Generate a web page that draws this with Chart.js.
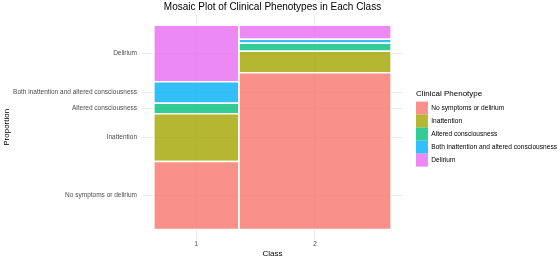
<!DOCTYPE html>
<html>
<head>
<meta charset="utf-8">
<script src="https://cdn.jsdelivr.net/npm/chart.js@4.4.0/dist/chart.umd.min.js"></script>
<style>
  html, body { margin: 0; padding: 0; background: #fff; }
  #wrap { width: 560px; height: 259px; }
</style>
</head>
<body>
<div id="wrap"><canvas id="myChart"></canvas></div>
<script>
// data
const classLabels = ['1', '2'];
const classShare = [0.358, 0.642];
const phenotypes = [
  'No symptoms or delirium',
  'Inattention',
  'Altered consciousness',
  'Both inattention and altered consciousness',
  'Delirium'
];
const class1Props = [0.333, 0.233, 0.052, 0.105, 0.277];
const class2Props = [0.767, 0.106, 0.039, 0.019, 0.069];
const phenotypeColors = [
  'rgba(248, 118, 109, 0.8)',
  'rgba(163, 165, 0, 0.8)',
  'rgba(0, 191, 125, 0.8)',
  'rgba(0, 176, 246, 0.8)',
  'rgba(231, 107, 243, 0.8)'
];
const chartTitle = 'Mosaic Plot of Clinical Phenotypes in Each Class';

const classProps = [class1Props, class2Props];
const FONT = "'Liberation Sans', Arial, sans-serif";

// x edges of each class column
let xEdges = [0];
classShare.forEach(s => xEdges.push(xEdges[xEdges.length - 1] + s));
const classCenters = classShare.map((s, i) => (xEdges[i] + xEdges[i + 1]) / 2);

// y tick positions = middle of each class-1 segment
let c1Edges = [0];
class1Props.forEach(p => c1Edges.push(c1Edges[c1Edges.length - 1] + p));
const yTickValues = class1Props.map((p, i) => (c1Edges[i] + c1Edges[i + 1]) / 2);

// one closed rectangle per class x phenotype
const datasets = [];
classProps.forEach((props, c) => {
  let yStart = 0;
  props.forEach((p, k) => {
    const x0 = xEdges[c], x1 = xEdges[c + 1];
    const y0 = yStart, y1 = yStart + p;
    yStart = y1;
    datasets.push({
      label: phenotypes[k],
      data: [
        {x: x0, y: y0}, {x: x1, y: y0}, {x: x1, y: y1}, {x: x0, y: y1}, {x: x0, y: y0}
      ],
      fill: 'shape',
      backgroundColor: phenotypeColors[k],
      borderColor: '#ffffff',
      borderWidth: 1.5,
      pointRadius: 0,
      pointHoverRadius: 0,
      tension: 0
    });
  });
});

// title centred over the panel, like ggplot does
const panelTitle = {
  id: 'panelTitle',
  afterDraw(chart) {
    const {ctx, chartArea} = chart;
    ctx.save();
    ctx.font = '10px ' + FONT;
    ctx.fillStyle = '#000';
    ctx.textAlign = 'center';
    ctx.textBaseline = 'middle';
    ctx.fillText(chartTitle, (chartArea.left + chartArea.right) / 2, 7);
    ctx.restore();
  }
};

const ctx1 = document.getElementById('myChart').getContext('2d');
const chart1 = new Chart(ctx1, {
  type: 'line',
  data: { datasets: datasets },
  plugins: [panelTitle],
  options: {
    responsive: true,
    maintainAspectRatio: false,
    animation: false,
    layout: { padding: { top: 15, right: -7, left: 2, bottom: 0 } },
    plugins: {
      tooltip: { enabled: false },
      legend: {
        position: 'right',
        align: 'start',
        maxWidth: 220,
        title: {
          display: true,
          text: 'Clinical Phenotype',
          color: '#000',
          font: { family: FONT, size: 8 },
          position: 'start',
          padding: { top: 75, bottom: 2 }
        },
        labels: {
          boxWidth: 12,
          boxHeight: 13,
          padding: 0,
          color: '#333',
          font: { family: FONT, size: 6.6 },
          generateLabels: () => phenotypes.map((name, k) => ({
            text: name,
            fillStyle: phenotypeColors[k],
            strokeStyle: 'rgba(0,0,0,0)',
            lineWidth: 0,
            hidden: false,
            datasetIndex: k
          }))
        }
      }
    },
    scales: {
      x: {
        type: 'linear',
        min: -0.05,
        max: 1.05,
        afterBuildTicks: scale => { scale.ticks = classCenters.map(v => ({value: v})); },
        ticks: {
          callback: (v, i) => classLabels[i],
          color: '#4d4d4d',
          font: { family: FONT, size: 6.5 },
          padding: 1,
          maxRotation: 0,
          autoSkip: false
        },
        grid: { color: '#ebebeb', lineWidth: 1, drawTicks: false },
        border: { display: false },
        title: {
          display: true,
          text: 'Class',
          color: '#000',
          font: { family: FONT, size: 8 },
          padding: { top: 0, bottom: 0 }
        }
      },
      y: {
        type: 'linear',
        min: -0.05,
        max: 1.05,
        afterBuildTicks: scale => { scale.ticks = yTickValues.map(v => ({value: v})); },
        afterFit: scale => { scale.width = 140; },
        ticks: {
          callback: (v, i) => phenotypes[i],
          color: '#4d4d4d',
          font: { family: FONT, size: 6.5 },
          padding: 5,
          autoSkip: false
        },
        grid: { color: '#ebebeb', lineWidth: 1, drawTicks: false },
        border: { display: false },
        title: {
          display: true,
          text: 'Proportion',
          color: '#000',
          font: { family: FONT, size: 8 },
          padding: { top: 0, bottom: 2 }
        }
      },
      // empty axis that only keeps a gap between panel and legend
      gap: {
        type: 'linear',
        position: 'right',
        display: true,
        ticks: { display: false },
        grid: { display: false },
        border: { display: false },
        afterFit: scale => { scale.width = 13; }
      }
    }
  }
});
</script>
</body>
</html>
